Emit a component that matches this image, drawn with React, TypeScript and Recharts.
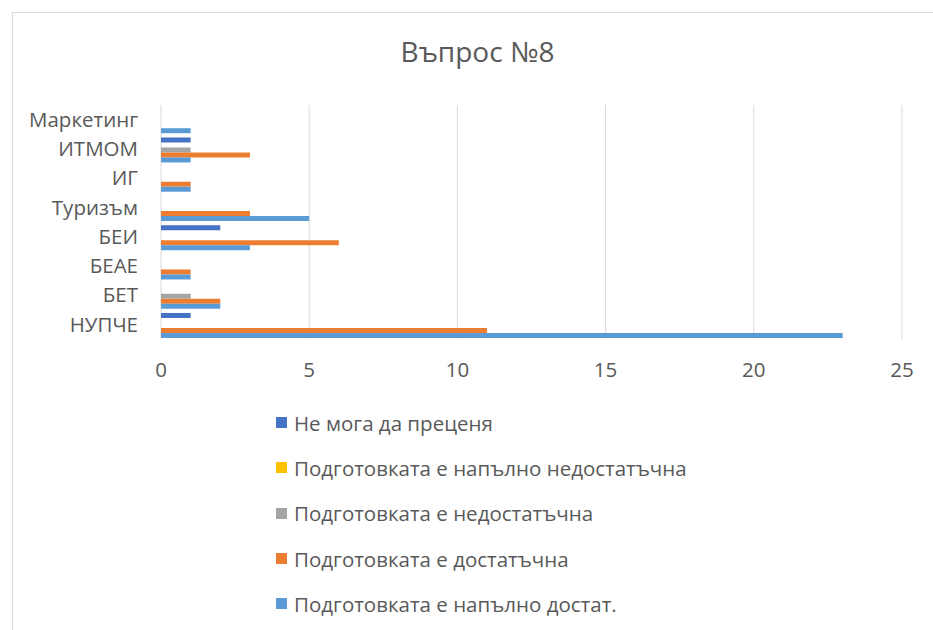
import React from 'react';
import { BarChart, Bar, XAxis, YAxis, CartesianGrid, Legend } from 'recharts';

const categories = ['НУПЧЕ', 'БЕТ', 'БЕАЕ', 'БЕИ', 'Туризъм', 'ИГ', 'ИТМОМ', 'Маркетинг'];
const cannotJudge = [1, 0, 0, 2, 0, 0, 1, 0];
const fullyInsufficient = [0, 0, 0, 0, 0, 0, 0, 0];
const insufficient = [0, 1, 0, 0, 0, 0, 1, 0];
const sufficient = [11, 2, 1, 6, 3, 1, 3, 0];
const fullySufficient = [23, 2, 1, 3, 5, 1, 1, 1];
const xTicks = [0, 5, 10, 15, 20, 25];

const series = [
  { key: 'Не мога да преценя', values: cannotJudge, color: '#4472c4' },
  { key: 'Подготовката е напълно недостатъчна', values: fullyInsufficient, color: '#ffc000' },
  { key: 'Подготовката е недостатъчна', values: insufficient, color: '#a5a5a5' },
  { key: 'Подготовката е достатъчна', values: sufficient, color: '#ed7d31' },
  { key: 'Подготовката е напълно достат.', values: fullySufficient, color: '#5b9bd5' },
];

const data = categories.map((name, i) => {
  const row: Record<string, string | number> = { name };
  series.forEach(s => { row[s.key] = s.values[i]; });
  return row;
});

const FONT = '"Open Sans", "Noto Sans", sans-serif';
const TEXT = '#595959';
const FS = 20.5;

const renderLegend = () => (
  <div style={{ fontFamily: FONT, fontSize: FS, color: TEXT }}>
    {series.map(s => (
      <div key={s.key} style={{ height: 45.3, display: 'flex', alignItems: 'center', whiteSpace: 'nowrap' }}>
        <span style={{ width: 11, height: 11, background: s.color, display: 'inline-block', marginRight: 7 }} />
        <span>{s.key}</span>
      </div>
    ))}
  </div>
);

export default function App() {
  return (
    <div style={{ position: 'absolute', left: 12, top: 12, width: 930, height: 630, border: '1px solid #d9d9d9', background: '#fff' }}>
      <div style={{ position: 'absolute', left: 4, width: 921, top: 19, textAlign: 'center', fontFamily: FONT, fontSize: 28, color: TEXT }}>
        Въпрос №8
      </div>
      <BarChart
        width={921}
        height={618}
        data={data}
        layout="vertical"
        margin={{ top: 92, right: 32, bottom: 262, left: 0 }}
        barCategoryGap="11%"
        barGap={0}
      >
        <CartesianGrid horizontal={false} stroke="#d9d9d9" />
        <XAxis
          type="number"
          domain={[0, 25]}
          ticks={xTicks}
          axisLine={false}
          tickLine={false}
          tickMargin={17}
          tick={{ fill: TEXT, fontSize: FS, fontFamily: FONT }}
        />
        <YAxis
          type="category"
          dataKey="name"
          reversed
          width={148}
          axisLine={false}
          tickLine={false}
          tickMargin={17}
          tick={{ fill: TEXT, fontSize: FS, fontFamily: FONT }}
        />
        <Legend
          layout="vertical"
          align="center"
          verticalAlign="middle"
          content={renderLegend}
          wrapperStyle={{ left: 263, top: 387, width: 600 }}
        />
        {series.map(s => (
          <Bar key={s.key} dataKey={s.key} fill={s.color} isAnimationActive={false} />
        ))}
      </BarChart>
    </div>
  );
}
